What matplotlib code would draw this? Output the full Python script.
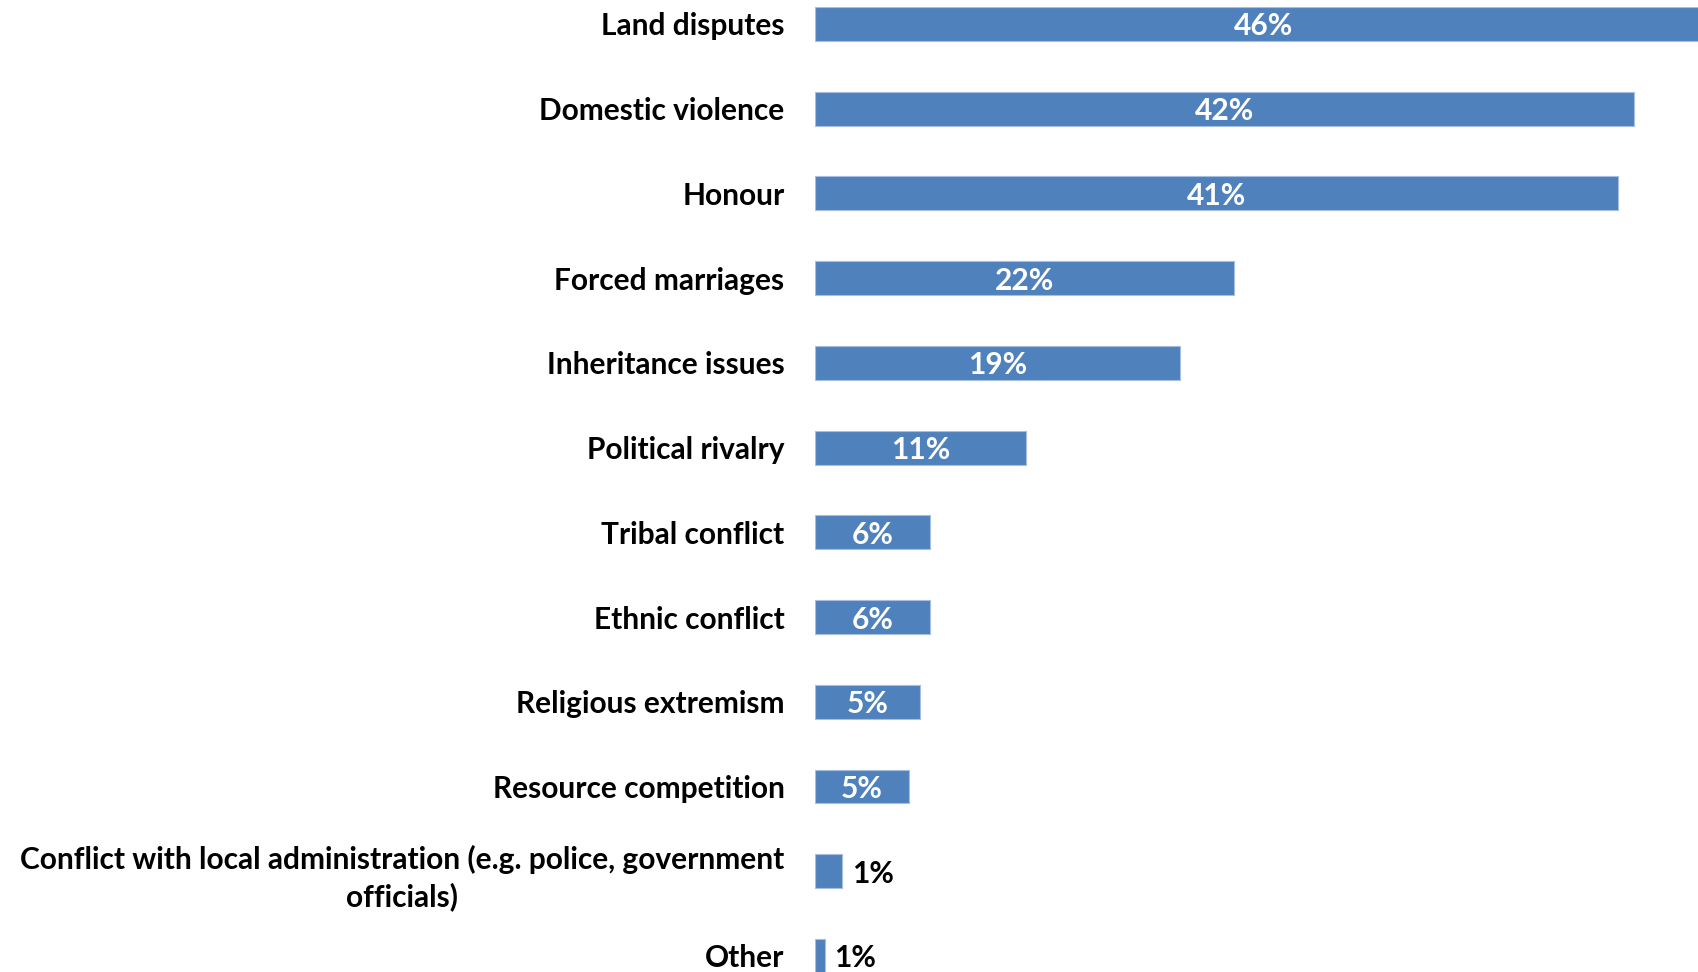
import matplotlib.pyplot as plt

plt.rcParams['font.family'] = ['Lato', 'DejaVu Sans']

categories = [
    "Land disputes",
    "Domestic violence",
    "Honour",
    "Forced marriages",
    "Inheritance issues",
    "Political rivalry",
    "Tribal conflict",
    "Ethnic conflict",
    "Religious extremism",
    "Resource competition",
    "Conflict with local administration (e.g. police, government\nofficials)",
    "Other",
]
values = [46.0, 42.0, 41.2, 21.5, 18.7, 10.8, 5.9, 5.9, 5.4, 4.8, 1.4, 0.5]
value_labels = ["46%", "42%", "41%", "22%", "19%", "11%", "6%", "6%", "5%", "5%", "1%", "1%"]

BAR_COLOR = "#4F81BD"
FS = 21.5

fig = plt.figure(figsize=(16.99, 9.72), dpi=100)
ax = fig.add_axes([815 / 1699, 0, 1 - 815 / 1699, 1])

ypos = list(range(len(categories)))
ax.barh(ypos, values, height=0.4, color=BAR_COLOR, edgecolor="#A7BFDE", linewidth=0.8)

# the longest bar runs past the right edge, as in the original
ax.set_xlim(0, 45.33)
ax.set_ylim(11.19, -0.283)

ax.set_yticks(ypos)
ax.set_yticklabels(categories, fontsize=FS, fontweight="bold")
for lbl in ax.get_yticklabels():
    lbl.set_multialignment("center")
    lbl.set_linespacing(1.35)
ax.tick_params(axis="y", length=0, pad=22)
ax.set_xticks([])
for s in ax.spines.values():
    s.set_visible(False)

for y, v, lab in zip(ypos, values, value_labels):
    if v > 3:
        ax.text(v / 2, y, lab, ha="center", va="center_baseline", color="white",
                fontsize=FS, fontweight="bold")
    else:
        ax.annotate(lab, (v, y), xytext=(7, 0), textcoords="offset points",
                    ha="left", va="center_baseline", color="black",
                    fontsize=FS, fontweight="bold")

fig.savefig("out.png", dpi=100)
